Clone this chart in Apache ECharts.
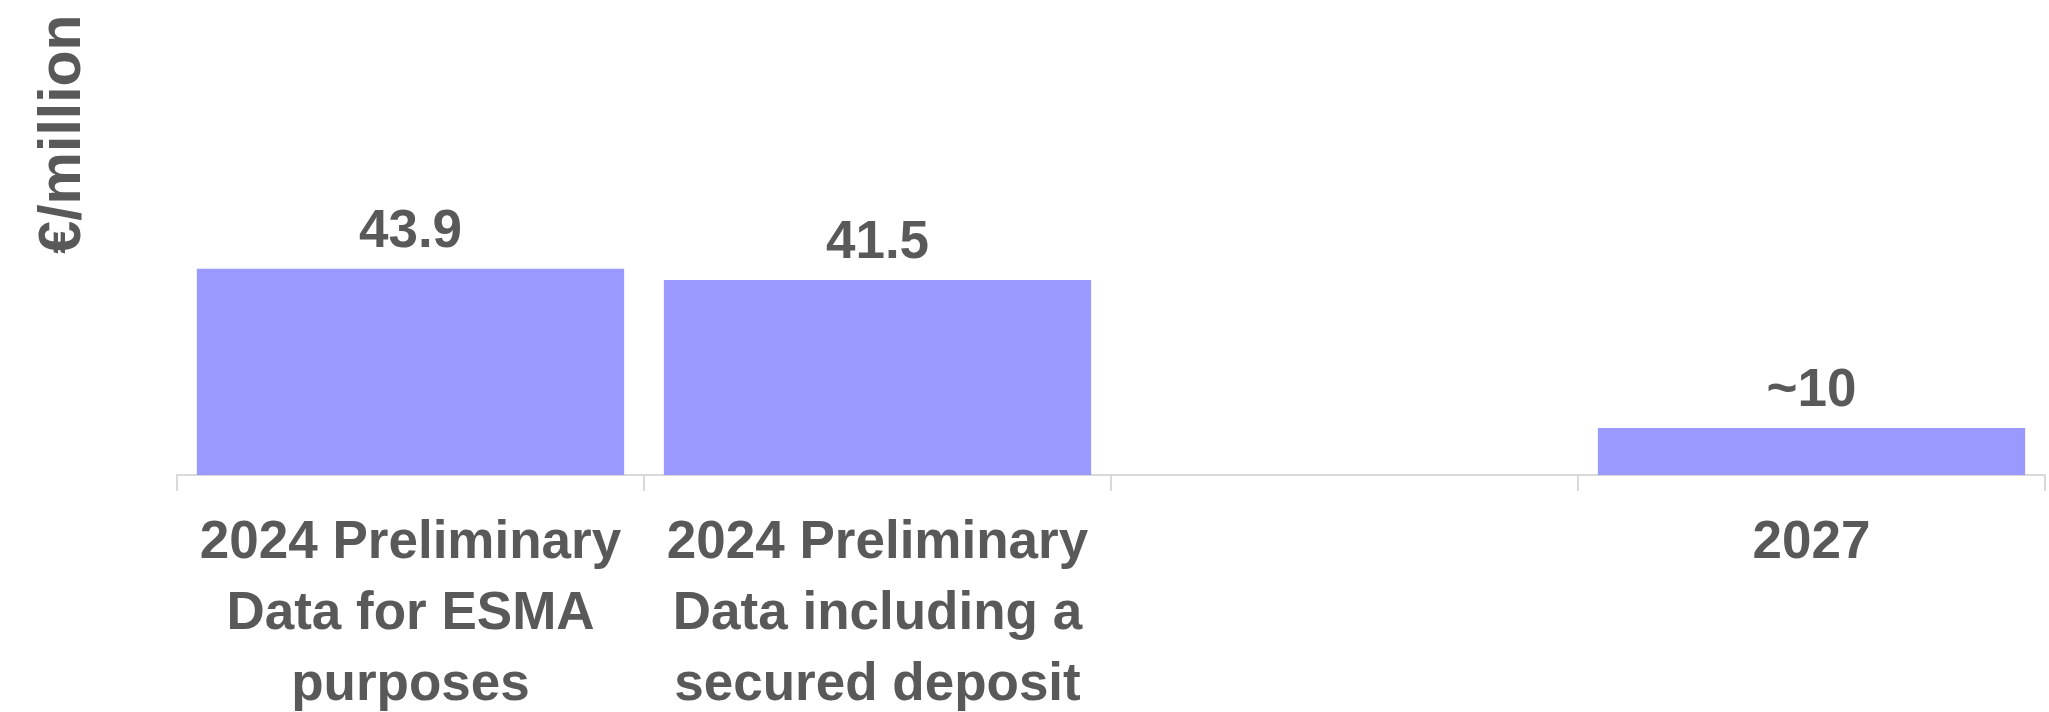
<!DOCTYPE html>
<html>
<head>
<meta charset="utf-8">
<script src="https://cdn.jsdelivr.net/npm/echarts@6/dist/echarts.min.js"></script>
<style>
  html, body { margin: 0; padding: 0; background: #ffffff; }
  #chart { width: 2049px; height: 712px; }
</style>
</head>
<body>
<div id="chart"></div>
<script>
// Categories (the third slot is an empty placeholder column)
const categories = [
  '2024 Preliminary\nData for ESMA\npurposes',
  '2024 Preliminary\nData including a\nsecured deposit',
  '',
  '2027'
];
// Values in €/million
const values = [43.9, 41.5, null, 10];
// Text shown above each bar
const valueLabels = ['43.9', '41.5', '', '~10'];
const unitLabel = '€/million';

const textColor = '#595959';
const fontFamily = '"Liberation Sans", Arial, sans-serif';

const chart = echarts.init(document.getElementById('chart'), null, { renderer: 'canvas' });

chart.setOption({
  animation: false,
  backgroundColor: '#ffffff',
  grid: {
    left: 177, right: 4, top: 5, bottom: 237,
    containLabel: false,
    outerBoundsMode: 'none'
  },
  xAxis: {
    type: 'category',
    data: categories,
    boundaryGap: true,
    axisLine: { show: true, lineStyle: { color: '#d9d9d9', width: 2 } },
    axisTick: { show: true, length: 16, lineStyle: { color: '#d9d9d9', width: 2 } },
    axisLabel: {
      interval: 0,
      margin: 33,
      color: textColor,
      fontFamily: fontFamily,
      fontWeight: 'bold',
      fontSize: 53,
      lineHeight: 71,
      align: 'center'
    }
  },
  yAxis: {
    type: 'value',
    min: 0,
    max: 100,
    show: false,
    splitLine: { show: false }
  },
  graphic: [{
    type: 'text',
    x: 64,
    y: 134,
    rotation: Math.PI / 2,
    style: {
      text: unitLabel,
      fill: textColor,
      font: 'bold 59px ' + fontFamily,
      align: 'center',
      verticalAlign: 'middle'
    }
  }],
  series: [{
    type: 'bar',
    data: values,
    barCategoryGap: '8.5%',
    itemStyle: { color: '#9999ff' },
    label: {
      show: true,
      position: 'top',
      distance: 10,
      color: textColor,
      fontFamily: fontFamily,
      fontWeight: 'bold',
      fontSize: 53,
      formatter: p => valueLabels[p.dataIndex]
    }
  }]
});
</script>
</body>
</html>
